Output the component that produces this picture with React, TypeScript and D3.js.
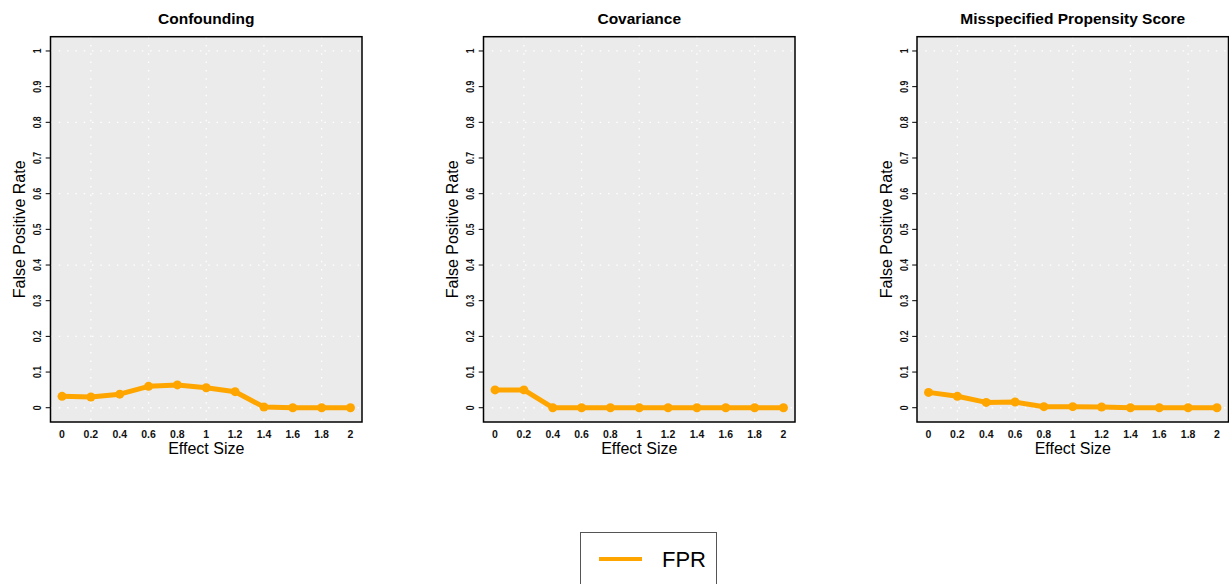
import React from "react";
import * as d3 from "d3";

const effectSizes = [0, 0.2, 0.4, 0.6, 0.8, 1.0, 1.2, 1.4, 1.6, 1.8, 2.0];
const xTickLabels = ["0", "0.2", "0.4", "0.6", "0.8", "1", "1.2", "1.4", "1.6", "1.8", "2"];
const yTicks = [0, 0.1, 0.2, 0.3, 0.4, 0.5, 0.6, 0.7, 0.8, 0.9, 1];
const yGrid = [0, 0.2, 0.4, 0.6, 0.8, 1];
const xGrid = [0.2, 0.6, 1.0, 1.4, 1.8];
const panelTitles = ["Confounding", "Covariance", "Misspecified Propensity Score"];
const fprConfounding = [0.032, 0.030, 0.038, 0.060, 0.064, 0.056, 0.045, 0.002, 0, 0, 0];
const fprCovariance = [0.05, 0.05, 0, 0, 0, 0, 0, 0, 0, 0, 0];
const fprMisspecified = [0.043, 0.032, 0.015, 0.016, 0.003, 0.003, 0.002, 0, 0, 0, 0];
const seriesName = "FPR";

const panelValues = [fprConfounding, fprCovariance, fprMisspecified];

const W = 1229;
const H = 584;
const panelLefts = [50.5, 483.5, 917];
const panelW = 311.5;
const top = 36.7;
const bottom = 422;
const ORANGE = "#FFA500";
const FONT = "'Liberation Sans', Arial, Helvetica, sans-serif";

function Panel({ left, title, values }: { left: number; title: string; values: number[] }) {
  const x = d3.scaleLinear().domain([-0.08, 2.08]).range([left, left + panelW]);
  const y = d3.scaleLinear().domain([-0.04, 1.04]).range([bottom, top]);
  const line = d3
    .line<number>()
    .x((_, i) => x(effectSizes[i]))
    .y((v) => y(v));
  const cx = left + panelW / 2;
  const cy = (top + bottom) / 2;
  return (
    <g>
      <rect x={left} y={top} width={panelW} height={bottom - top} fill="#EBEBEB" />
      {yGrid.map((v) => (
        <line
          key={"h" + v}
          x1={left}
          x2={left + panelW}
          y1={y(v)}
          y2={y(v)}
          stroke="#ffffff"
          strokeWidth={1.3}
          strokeDasharray="1.5 6.8"
        />
      ))}
      {xGrid.map((v) => (
        <line
          key={"v" + v}
          x1={x(v)}
          x2={x(v)}
          y1={top}
          y2={bottom}
          stroke="#ffffff"
          strokeWidth={1.3}
          strokeDasharray="1.5 6.8"
        />
      ))}
      <path d={line(values) || ""} fill="none" stroke={ORANGE} strokeWidth={5} strokeLinejoin="round" />
      {values.map((v, i) => (
        <circle key={i} cx={x(effectSizes[i])} cy={y(v)} r={4.5} fill={ORANGE} />
      ))}
      <rect x={left} y={top} width={panelW} height={bottom - top} fill="none" stroke="#000" strokeWidth={1.5} />
      {yTicks.map((v) => (
        <g key={"yt" + v}>
          <line x1={left - 4.8} x2={left} y1={y(v)} y2={y(v)} stroke="#000" strokeWidth={1} />
          <text
            transform={`translate(${left - 9.5},${y(v)}) rotate(-90) scale(0.82,1)`}
            textAnchor="middle"
            fontSize={10.5}
            fontWeight="bold"
            fontFamily={FONT}
            fill="#111"
          >
            {v === 0 ? "0" : v === 1 ? "1" : String(v)}
          </text>
        </g>
      ))}
      {effectSizes.map((v, i) => (
        <text
          key={"xt" + v}
          x={x(v)}
          y={438}
          textAnchor="middle"
          fontSize={10.5}
          fontWeight="bold"
          fontFamily={FONT}
          fill="#111"
        >
          {xTickLabels[i]}
        </text>
      ))}
      <text x={cx} y={24.3} textAnchor="middle" fontSize={15.5} fontWeight="bold" fontFamily={FONT} fill="#000">
        {title}
      </text>
      <text x={cx} y={454.3} textAnchor="middle" fontSize={16} fontFamily={FONT} fill="#000">
        Effect Size
      </text>
      <text
        transform={`translate(${left - 25.5},${cy}) rotate(-90)`}
        textAnchor="middle"
        fontSize={16}
        fontFamily={FONT}
        fill="#000"
      >
        False Positive Rate
      </text>
    </g>
  );
}

export default function App() {
  return (
    <svg
      width={W}
      height={H}
      style={{ position: "absolute", left: 0, top: 0, background: "#fff" }}
    >
      <rect x={0} y={0} width={W} height={H} fill="#fff" />
      {panelTitles.map((t, i) => (
        <Panel key={t} left={panelLefts[i]} title={t} values={panelValues[i]} />
      ))}
      <g>
        <rect x={580.5} y={532.5} width={136} height={60} fill="#fff" stroke="#555" strokeWidth={1} />
        <line x1={599} x2={642} y1={559} y2={559} stroke={ORANGE} strokeWidth={4} />
        <text x={662} y={567} fontSize={22} fontFamily={FONT} fill="#000">
          {seriesName}
        </text>
      </g>
    </svg>
  );
}
